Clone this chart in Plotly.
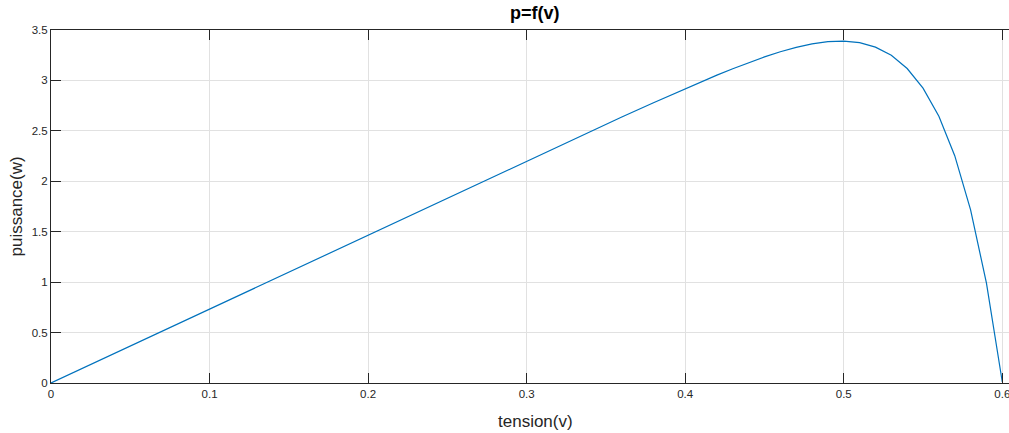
import plotly.graph_objects as go

# tension (V) and puissance (W)
tension = [0.0, 0.05, 0.10, 0.15, 0.20, 0.25, 0.30, 0.32, 0.34, 0.36, 0.38,
           0.40, 0.41, 0.42, 0.43, 0.44, 0.45, 0.46, 0.47, 0.48, 0.49,
           0.50, 0.51, 0.52, 0.53, 0.54, 0.55, 0.56, 0.57, 0.58, 0.59, 0.60]
puissance = [0.0, 0.367, 0.734, 1.101, 1.468, 1.835, 2.201, 2.347, 2.493, 2.637, 2.779,
             2.919, 2.987, 3.053, 3.116, 3.177, 3.233, 3.284, 3.328, 3.362, 3.384,
             3.390, 3.374, 3.330, 3.249, 3.118, 2.924, 2.644, 2.254, 1.717, 0.990, 0.01]

x_ticks = [0, 0.1, 0.2, 0.3, 0.4, 0.5, 0.6]
x_tick_labels = ["0", "0.1", "0.2", "0.3", "0.4", "0.5", "0.6"]
y_ticks = [0, 0.5, 1, 1.5, 2, 2.5, 3, 3.5]
y_tick_labels = ["0", "0.5", "1", "1.5", "2", "2.5", "3", "3.5"]

title_text = "p=f(v)"
x_label = "tension(v)"
y_label = "puissance(w)"

axis_color = "#262626"
grid_color = "#e1e1e1"
font_family = "Liberation Sans, Arial, Helvetica, sans-serif"

fig = go.Figure()
fig.add_trace(go.Scatter(x=tension, y=puissance, mode="lines",
                         line=dict(color="#0072BD", width=1.2),
                         showlegend=False, hoverinfo="x+y"))

# the axes box extends a little past the visible 1009 px window (as in the reference crop)
W, H = 1029, 433
L, T, B, R = 51, 30, 50, 10
plot_w = W - L - R
px_per_unit = (1002.3 - 51) / 0.6
x_max = plot_w / px_per_unit

fig.update_layout(
    width=W, height=H,
    margin=dict(l=L, r=R, t=T, b=B),
    paper_bgcolor="white", plot_bgcolor="white",
    font=dict(family=font_family, color=axis_color, size=11.5),
    xaxis=dict(range=[0, x_max], tickvals=x_ticks, ticktext=x_tick_labels,
               showgrid=True, gridcolor=grid_color, gridwidth=1,
               zeroline=False, showline=True, linecolor=axis_color, linewidth=1,
               mirror="ticks", ticks="inside", ticklen=10, tickcolor=axis_color,
               tickwidth=1, tickfont=dict(size=11.5, color=axis_color)),
    yaxis=dict(range=[0, 3.5], tickvals=y_ticks, ticktext=y_tick_labels,
               showgrid=True, gridcolor=grid_color, gridwidth=1,
               zeroline=False, showline=True, linecolor=axis_color, linewidth=1,
               mirror="ticks", ticks="inside", ticklen=10, tickcolor=axis_color,
               tickwidth=1, tickfont=dict(size=11.5, color=axis_color)),
)

fig.add_annotation(text="<b>" + title_text + "</b>", xref="paper", yref="paper",
                   x=0.5, y=1, yshift=5, xanchor="center", yanchor="bottom",
                   showarrow=False, font=dict(size=18, color="black", family=font_family))
fig.add_annotation(text=x_label, xref="paper", yref="paper",
                   x=0.5, y=0, yshift=-27, xanchor="center", yanchor="top",
                   showarrow=False, font=dict(size=17, color=axis_color, family=font_family))
fig.add_annotation(text=y_label, xref="paper", yref="paper", textangle=-90,
                   x=0, xshift=-35, y=0.5, xanchor="center", yanchor="middle",
                   showarrow=False, font=dict(size=17, color=axis_color, family=font_family))

fig.write_html("out.html", config={"displayModeBar": False},
               post_script="document.body.style.margin='0';document.body.style.overflow='hidden';"
                           "document.documentElement.style.overflow='hidden';")
